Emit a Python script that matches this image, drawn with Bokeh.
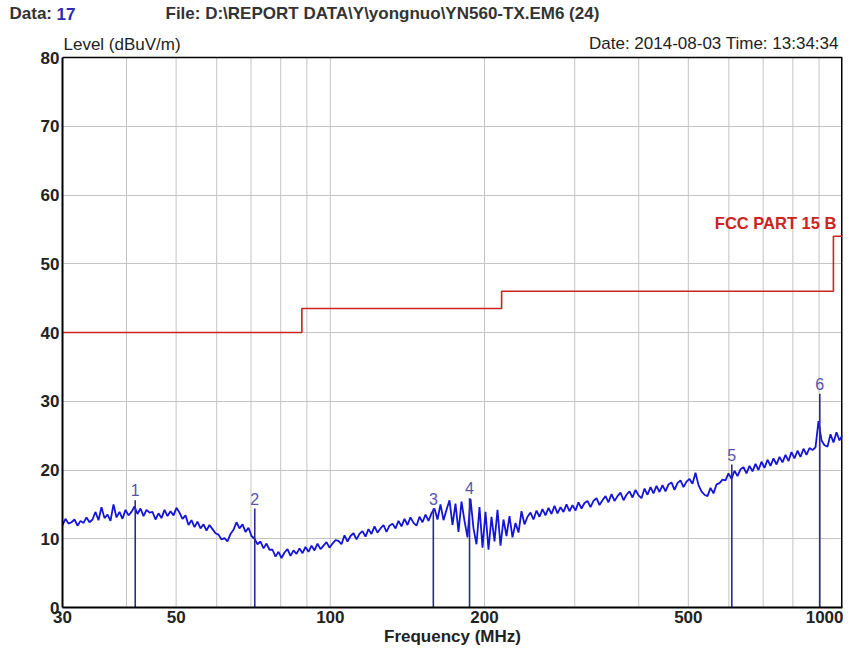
import numpy as np
from bokeh.plotting import figure
from bokeh.layouts import column
from bokeh.models import Range1d, FixedTicker, NumeralTickFormatter, Label
from bokeh.core.properties import value
from bokeh.embed import file_html
from bokeh.resources import INLINE

# ---- data ----
sweep_start, sweep_stop, sweep_points = 30.0, 1000.0, 261
levels = [
    12.0, 12.9, 12.2, 12.4, 12.8, 11.9, 12.6, 12.3, 13.1, 12.4,
    12.8, 13.9, 12.7, 14.6, 13.0, 13.5, 12.6, 15.0, 13.1, 13.9,
    12.9, 14.2, 13.4, 13.9, 14.7, 13.6, 14.4, 13.3, 14.2, 13.8,
    13.9, 12.8, 13.7, 13.0, 14.2, 13.3, 14.0, 13.4, 14.5, 13.8,
    12.9, 13.4, 12.0, 12.7, 11.7, 12.5, 11.5, 12.1, 11.2, 12.0,
    11.4, 10.8, 10.6, 9.9, 10.1, 9.6, 10.7, 11.3, 12.4, 11.5,
    12.1, 11.0, 11.6, 10.4, 10.0, 9.2, 9.6, 8.6, 9.3, 8.4,
    8.4, 7.4, 8.1, 7.2, 8.0, 8.5, 7.5, 8.3, 7.8, 8.6,
    7.9, 8.8, 8.1, 9.0, 8.3, 9.3, 8.5, 9.0, 9.5, 8.7,
    9.3, 9.8, 9.7, 9.2, 10.5, 9.6, 10.4, 10.8, 9.9, 10.7,
    11.1, 10.3, 11.4, 10.7, 11.8, 10.9, 11.5, 12.0, 11.0, 11.9,
    12.2, 11.5, 12.6, 11.8, 12.9, 12.0, 13.1, 12.3, 11.9, 13.2,
    12.4, 13.5, 12.6, 13.7, 14.4, 12.8, 15.0, 12.7, 14.2, 15.6,
    12.0, 15.1, 11.0, 15.4, 12.6, 10.2, 15.8, 11.5, 9.2, 14.6,
    8.7, 13.9, 8.4, 13.2, 9.6, 14.2, 9.0, 12.8, 10.4, 13.3,
    10.2, 12.3, 10.9, 14.0, 12.1, 13.2, 13.8, 12.8, 14.1, 13.2,
    14.3, 13.4, 14.5, 13.6, 14.8, 13.7, 14.6, 13.9, 15.0, 14.0,
    14.9, 14.1, 15.3, 14.4, 15.2, 15.5, 14.6, 15.5, 15.9, 14.9,
    15.6, 16.2, 15.3, 16.5, 15.5, 16.2, 16.7, 15.6, 16.4, 16.9,
    16.0, 17.1, 16.3, 15.9, 17.3, 16.4, 17.5, 16.6, 17.7, 16.8,
    17.8, 16.9, 17.9, 18.2, 17.1, 18.1, 18.5, 17.5, 18.3, 18.7,
    18.0, 19.6, 17.8, 16.9, 16.4, 16.2, 17.4, 16.6, 17.9, 18.1,
    18.6, 18.5, 19.5, 18.7, 19.9, 19.1, 20.1, 20.4, 19.5, 20.6,
    19.8, 20.9, 20.0, 21.2, 20.3, 21.5, 20.6, 21.7, 20.8, 21.9,
    21.1, 22.2, 21.3, 22.6, 21.7, 22.8, 21.9, 23.1, 22.2, 23.2,
    22.9, 23.3, 27.1, 24.3, 23.6, 23.4, 25.2, 24.0, 25.5, 24.3,
    25.1,
]
freqs = np.geomspace(sweep_start, sweep_stop, sweep_points)

limit_freq = [30, 88, 88, 216, 216, 960, 960, 1000]
limit_level = [40, 40, 43.5, 43.5, 46, 46, 54, 54]

marker_freq = [41.6, 71.2, 158.9, 187.0, 608.0, 903.0]
marker_level = [15.6, 14.4, 14.4, 15.9, 20.8, 31.1]
marker_text = ["1", "2", "3", "4", "5", "6"]

x_tick_values = [30, 50, 100, 200, 500, 1000]
x_grid_values = [40, 50, 60, 70, 80, 90, 100, 200, 300, 400, 500, 600, 700, 800, 900]
y_tick_values = [0, 10, 20, 30, 40, 50, 60, 70, 80]
y_grid_values = [10, 20, 30, 40, 50, 60, 70]

X_MIN, X_MAX = 30, 1000
Y_MIN, Y_MAX = 0, 80

FONT = "Liberation Sans"
W = 843
HEAD_H = 27
MAIN_H = 621
PX_PER_DB = 550 / 80.0           # plot box height / level span
Y_TOP = Y_MAX + 30 / PX_PER_DB   # room above the box for the second header row

# ---- header row 1 ----
h = figure(width=W, height=HEAD_H, x_range=Range1d(0, W), y_range=Range1d(HEAD_H, 0),
           output_backend="svg", toolbar_location=None,
           x_axis_location=None, y_axis_location=None,
           min_border=0, min_border_left=0, min_border_right=0,
           min_border_top=0, min_border_bottom=0)
h.outline_line_color = None
h.xgrid.visible = False
h.ygrid.visible = False
h.background_fill_color = "white"
h.border_fill_color = "white"
h.text(x=[9, 165], y=[13, 13],
       text=["Data:", "File: D:\\REPORT DATA\\Y\\yongnuo\\YN560-TX.EM6  (24)"],
       text_align="left", text_baseline="middle", text_font=value(FONT),
       text_font_size="17px", text_font_style="bold", text_color="#333333")
h.text(x=[56], y=[13], text=["17"], text_align="left", text_baseline="middle",
       text_font=value(FONT), text_font_size="17px", text_font_style="bold",
       text_color="#2b2bb0")

# ---- main chart ----
p = figure(width=W, height=MAIN_H, x_axis_type="log",
           x_range=Range1d(X_MIN, X_MAX), y_range=Range1d(Y_MIN, Y_TOP),
           output_backend="svg", toolbar_location=None,
           min_border_left=62, min_border_right=1,
           min_border_top=0, min_border_bottom=41)
p.background_fill_color = "white"
p.border_fill_color = "white"
p.outline_line_color = None

for fig in (h, p):
    try:
        fig.frame_align = False
    except Exception:
        pass

# grids
p.xgrid.visible = False
p.ygrid.ticker = FixedTicker(ticks=y_grid_values)
p.ygrid.grid_line_color = "#c4c4c4"
p.ygrid.grid_line_width = 1
p.segment(x0=x_grid_values, y0=[Y_MIN] * len(x_grid_values),
          x1=x_grid_values, y1=[Y_MAX] * len(x_grid_values),
          line_color="#c4c4c4", line_width=1)

# axes
p.xaxis.ticker = FixedTicker(ticks=x_tick_values)
p.yaxis.ticker = FixedTicker(ticks=y_tick_values)
p.yaxis.bounds = (Y_MIN, Y_MAX)
p.xaxis.formatter = NumeralTickFormatter(format="0")
p.yaxis.formatter = NumeralTickFormatter(format="0")
for ax in (p.xaxis, p.yaxis):
    ax.axis_line_color = "black"
    ax.axis_line_width = 2
    ax.major_tick_out = 0
    ax.major_tick_in = 0
    ax.minor_tick_out = 0
    ax.minor_tick_in = 0
    ax.major_label_text_font = FONT
    ax.major_label_text_font_size = "17px"
    ax.major_label_text_font_style = "bold"
    ax.major_label_text_color = "#222222"
p.xaxis.major_label_standoff = 3
p.yaxis.major_label_standoff = 3
p.xaxis.axis_label = "Frequency (MHz)"
p.xaxis.axis_label_text_font = FONT
p.xaxis.axis_label_text_font_size = "17px"
p.xaxis.axis_label_text_font_style = "bold"
p.xaxis.axis_label_text_color = "#222222"
p.xaxis.axis_label_standoff = 1

# box top and right edges
p.line([X_MIN, X_MAX], [Y_MAX, Y_MAX], line_color="black", line_width=1.5)
p.line([X_MAX, X_MAX], [Y_MIN, Y_MAX], line_color="black", line_width=3)

# limit line
p.line(limit_freq, limit_level, line_color="#cc2222", line_width=1.6)

# trace
p.line(freqs, levels, line_color="#1414d8", line_width=1.8)

# markers
p.segment(x0=marker_freq, y0=[Y_MIN] * len(marker_freq), x1=marker_freq, y1=marker_level,
          line_color="#2b2b92", line_width=1.6)
p.text(x=marker_freq, y=marker_level, text=marker_text, y_offset=-4,
       text_align="center", text_baseline="bottom",
       text_font=value(FONT), text_font_size="16px", text_color="#5555a8")

# limit label
p.add_layout(Label(x=960, y=54, text="FCC PART 15 B", x_offset=3, y_offset=4,
                   text_align="right", text_baseline="bottom",
                   text_font=FONT, text_font_size="16.5px", text_font_style="bold",
                   text_color="#cc2222"))

# header row 2 (inside the frame, above the box)
p.add_layout(Label(x=X_MIN, y=Y_MAX, x_offset=1, y_offset=13, text="Level (dBuV/m)",
                   text_align="left", text_baseline="middle",
                   text_font=FONT, text_font_size="17px", text_color="#222222"))
p.add_layout(Label(x=X_MAX, y=Y_MAX, x_offset=1, y_offset=14,
                   text="Date: 2014-08-03  Time: 13:34:34",
                   text_align="right", text_baseline="middle",
                   text_font=FONT, text_font_size="17px", text_color="#222222"))

layout = column(h, p, spacing=0)
open("out.html", "w").write(file_html(layout, INLINE))
